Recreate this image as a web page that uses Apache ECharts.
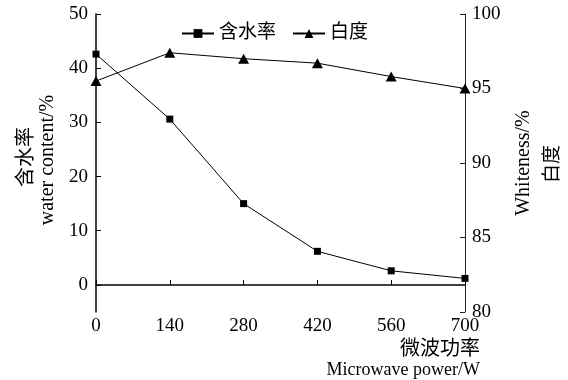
<!DOCTYPE html>
<html>
<head>
<meta charset="utf-8">
<script src="https://cdn.jsdelivr.net/npm/echarts@6/dist/echarts.min.js"></script>
<style>html,body{margin:0;padding:0;background:#fff;}#c{width:568px;height:380px;}</style>
</head>
<body>
<div id="c"></div>
<script>
const powers = [0, 140, 280, 420, 560, 700];
const waterContent = [42.6, 30.6, 15.0, 6.2, 2.6, 1.2];
const whiteness = [95.5, 97.4, 97.0, 96.7, 95.8, 95.0];
const xTicks = [0, 140, 280, 420, 560, 700];
const leftTicks = [0, 10, 20, 30, 40, 50];
const rightTicks = [80, 85, 90, 95, 100];
const seriesNames = ['含水率', '白度'];

const FONT = "'Liberation Serif', 'Noto Sans CJK SC', serif";
const chart = echarts.init(document.getElementById('c'));
chart.setOption({
  backgroundColor: '#fff',
  animation: false,
  textStyle: { fontFamily: FONT, color: '#000' },
  grid: { left: 96, right: 103, top: 14, bottom: 68 },
  legend: {
    left: 176, top: 19,
    itemWidth: 32, itemHeight: 11, itemGap: 16,
    textStyle: { fontFamily: FONT, fontSize: 19, color: '#000' },
    data: seriesNames
  },
  xAxis: {
    type: 'value', min: 0, max: 700, interval: 140,
    axisLine: { lineStyle: { color: '#000', width: 1.5 } },
    axisTick: { inside: true, length: 5, lineStyle: { color: '#000' } },
    axisLabel: { fontSize: 19, color: '#000', margin: 5, fontFamily: FONT,
      customValues: xTicks },
    splitLine: { show: false }
  },
  yAxis: [{
    type: 'value', min: -5, max: 50, position: 'left',
    axisLine: { show: true, lineStyle: { color: '#000', width: 1.5 } },
    axisTick: { show: true, inside: true, length: 5, lineStyle: { color: '#000' }, customValues: leftTicks },
    axisLabel: { fontSize: 19, color: '#000', margin: 8, fontFamily: FONT, customValues: leftTicks, padding: [4, 0, 0, 0] },
    splitLine: { show: false }
  }, {
    type: 'value', min: 80, max: 100, interval: 5, position: 'right',
    axisLine: { show: true, lineStyle: { color: '#222', width: 1 } },
    axisTick: { show: true, inside: true, length: 5, lineStyle: { color: '#222' } },
    axisLabel: { fontSize: 19, color: '#000', margin: 7, fontFamily: FONT, customValues: rightTicks, padding: [4, 0, 0, 0] },
    splitLine: { show: false }
  }],
  graphic: [
    { type: 'text', x: 24, y: 157, rotation: Math.PI / 2,
      style: { text: '含水率', font: "20px 'Noto Sans CJK SC'", fill: '#000', textAlign: 'center', textVerticalAlign: 'middle' } },
    { type: 'text', x: 48, y: 160, rotation: Math.PI / 2,
      style: { text: 'water content/%', font: "20px 'Liberation Serif'", fill: '#000', textAlign: 'center', textVerticalAlign: 'middle' } },
    { type: 'text', x: 524, y: 163, rotation: Math.PI / 2,
      style: { text: 'Whiteness/%', font: "20px 'Liberation Serif'", fill: '#000', textAlign: 'center', textVerticalAlign: 'middle' } },
    { type: 'text', x: 551, y: 164, rotation: Math.PI / 2,
      style: { text: '白度', font: "19px 'Noto Sans CJK SC'", fill: '#000', textAlign: 'center', textVerticalAlign: 'middle' } },
    { type: 'text', x: 480, y: 347,
      style: { text: '微波功率', font: "20px 'Noto Sans CJK SC'", fill: '#000', textAlign: 'right', textVerticalAlign: 'middle' } },
    { type: 'text', x: 480, y: 370,
      style: { text: 'Microwave power/W', font: "18px 'Liberation Serif'", fill: '#000', textAlign: 'right', textVerticalAlign: 'middle' } }
  ],
  series: [{
    name: seriesNames[0], type: 'line', yAxisIndex: 0,
    data: powers.map((p, i) => [p, waterContent[i]]),
    symbol: 'rect', symbolSize: 7,
    lineStyle: { color: '#000', width: 1 },
    itemStyle: { color: '#000' }
  }, {
    name: seriesNames[1], type: 'line', yAxisIndex: 1,
    data: powers.map((p, i) => [p, whiteness[i]]),
    symbol: 'triangle', symbolSize: [11, 10],
    lineStyle: { color: '#000', width: 1 },
    itemStyle: { color: '#000' }
  }]
});
</script>
</body>
</html>
